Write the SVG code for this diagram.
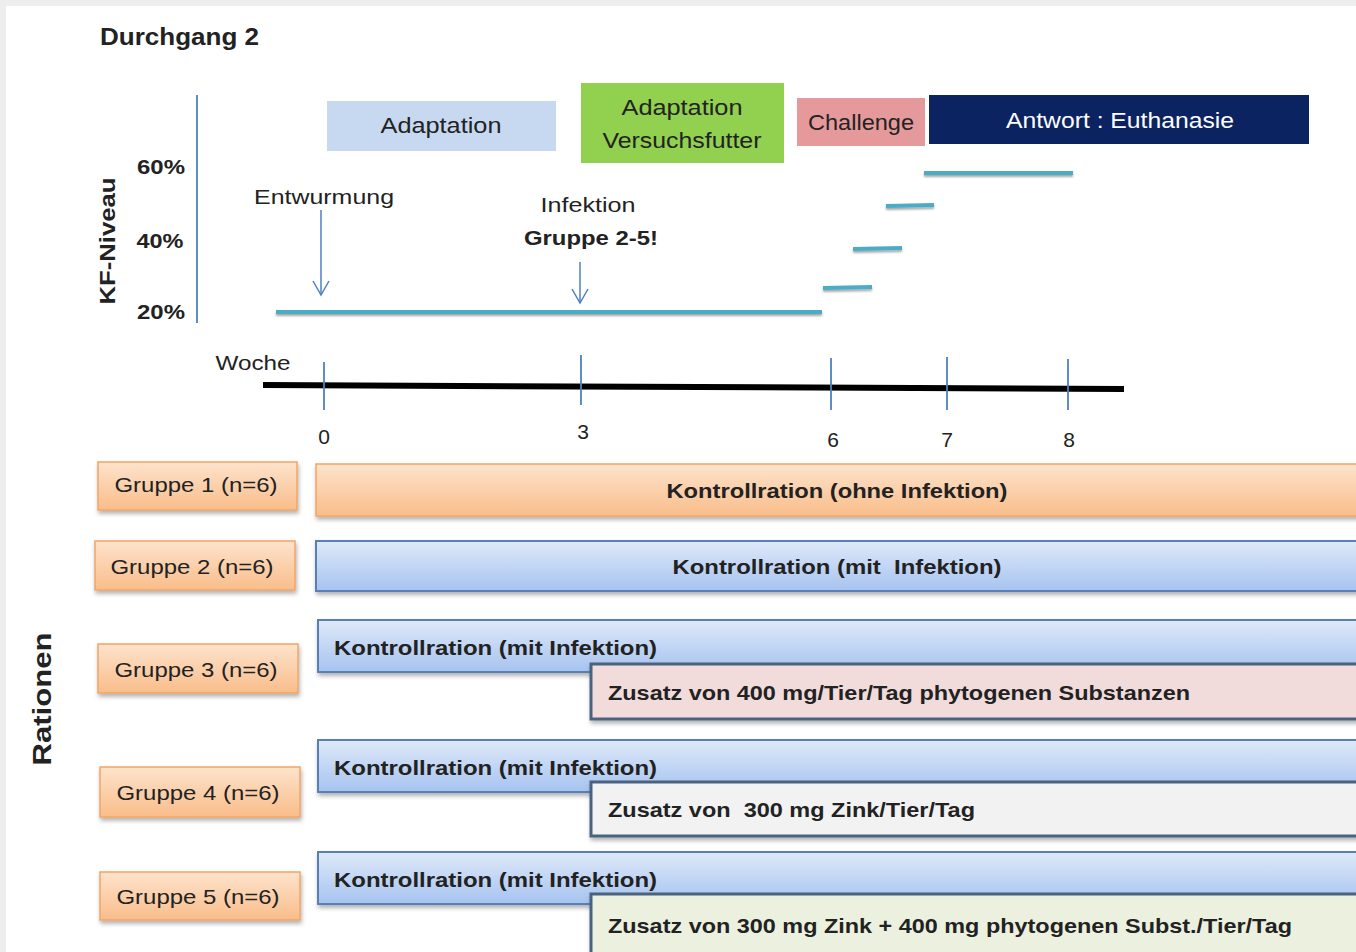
<svg xmlns="http://www.w3.org/2000/svg" width="1356" height="952" viewBox="0 0 1356 952">
<defs>
<linearGradient id="gOr" x1="0" y1="0" x2="0" y2="1"><stop offset="0" stop-color="#fde3cc"/><stop offset="1" stop-color="#f9bd8a"/></linearGradient>
<linearGradient id="gBl" x1="0" y1="0" x2="0" y2="1"><stop offset="0" stop-color="#dfe9f9"/><stop offset="1" stop-color="#a6c3f0"/></linearGradient>
<filter id="sh" x="-5%" y="-20%" width="110%" height="150%"><feDropShadow dx="1" dy="3" stdDeviation="2" flood-color="#000" flood-opacity="0.3"/></filter>
<filter id="lsh" filterUnits="userSpaceOnUse" x="0" y="0" width="1356" height="952"><feDropShadow dx="0" dy="2" stdDeviation="1.2" flood-color="#000" flood-opacity="0.35"/></filter>
<marker id="ah" viewBox="0 0 20 20" refX="18" refY="10" markerWidth="20" markerHeight="20" markerUnits="userSpaceOnUse" orient="auto"><path d="M4,2 L18,10 L4,18" fill="none" stroke="#4f81bd" stroke-width="1.5"/></marker>
</defs>
<style>
text{font-family:"Liberation Sans",Arial,sans-serif;fill:#222;white-space:pre}
.b{font-weight:bold}
.grp{fill:url(#gOr);stroke:#f3a465;stroke-width:1.5;filter:url(#sh)}
.blue{fill:url(#gBl);stroke:#5a7fb5;stroke-width:2;filter:url(#sh)}
.sup{stroke:#4a6280;stroke-width:3;filter:url(#sh)}
.teal{stroke:#4bacc6;stroke-width:4;fill:none}
.tick{stroke:#4f81bd;stroke-width:1.8}
</style>
<rect x="0" y="0" width="1356" height="952" fill="#eeeeee"/>
<rect x="6" y="6" width="1350" height="946" fill="#ffffff"/>

<text x="100" y="45" class="b" font-size="24" textLength="159" lengthAdjust="spacingAndGlyphs">Durchgang 2</text>

<g id="axis">
<line x1="197" y1="95" x2="197" y2="323" stroke="#4f81bd" stroke-width="1.8"/>
<text x="161" y="174" class="b" font-size="20" text-anchor="middle" textLength="48" lengthAdjust="spacingAndGlyphs">60%</text>
<text x="160" y="248" class="b" font-size="20" text-anchor="middle" textLength="47" lengthAdjust="spacingAndGlyphs">40%</text>
<text x="161" y="319" class="b" font-size="20" text-anchor="middle" textLength="48" lengthAdjust="spacingAndGlyphs">20%</text>
<text transform="translate(115,241) rotate(-90)" class="b" font-size="22" text-anchor="middle" textLength="127" lengthAdjust="spacingAndGlyphs">KF-Niveau</text>
</g>

<g id="phase-adaptation">
<rect x="327" y="101" width="229" height="50" fill="#c6d9f1"/>
<text x="441" y="133" font-size="22" text-anchor="middle" fill="#333" textLength="121" lengthAdjust="spacingAndGlyphs">Adaptation</text>
</g>
<g id="phase-versuchsfutter">
<rect x="581" y="83" width="203" height="80" fill="#92d050"/>
<text x="682" y="115" font-size="22" text-anchor="middle" fill="#333" textLength="121" lengthAdjust="spacingAndGlyphs">Adaptation</text>
<text x="682" y="148" font-size="22" text-anchor="middle" fill="#333" textLength="159" lengthAdjust="spacingAndGlyphs">Versuchsfutter</text>
</g>
<g id="phase-challenge">
<rect x="797" y="98" width="128" height="48" fill="#e6999b"/>
<text x="861" y="130" font-size="22" text-anchor="middle" fill="#333" textLength="106" lengthAdjust="spacingAndGlyphs">Challenge</text>
</g>
<g id="phase-antwort">
<rect x="929" y="95" width="380" height="49" fill="#0b2461"/>
<text x="1120" y="128" font-size="22" text-anchor="middle" style="fill:#ffffff" textLength="228" lengthAdjust="spacingAndGlyphs">Antwort : Euthanasie</text>
</g>

<g id="kf-levels" filter="url(#lsh)">
<line class="teal" x1="276" y1="312" x2="822" y2="312"/>
<line class="teal" x1="823" y1="288" x2="872" y2="287"/>
<line class="teal" x1="853" y1="249" x2="902" y2="248"/>
<line class="teal" x1="886" y1="206" x2="934" y2="205"/>
<line class="teal" x1="924" y1="173" x2="1073" y2="173"/>
</g>

<g id="events">
<text x="324" y="204" font-size="21" text-anchor="middle" textLength="140" lengthAdjust="spacingAndGlyphs">Entwurmung</text>
<text x="588" y="212" font-size="21" text-anchor="middle" textLength="95" lengthAdjust="spacingAndGlyphs">Infektion</text>
<text x="591" y="245" class="b" font-size="21" text-anchor="middle" textLength="134" lengthAdjust="spacingAndGlyphs">Gruppe 2-5!</text>
</g>

<g id="connectors">
<line x1="321" y1="210" x2="321" y2="295" stroke="#4f81bd" stroke-width="1.5" marker-end="url(#ah)"/>
<line x1="580" y1="262" x2="580" y2="303" stroke="#4f81bd" stroke-width="1.5" marker-end="url(#ah)"/>
</g>

<g id="timeline">
<line x1="263" y1="385" x2="1124" y2="389" stroke="#000" stroke-width="6"/>
<line class="tick" x1="324" y1="362" x2="324" y2="410"/>
<line class="tick" x1="581" y1="355" x2="581" y2="405"/>
<line class="tick" x1="831" y1="358" x2="831" y2="410"/>
<line class="tick" x1="947" y1="357" x2="947" y2="410"/>
<line class="tick" x1="1068" y1="359" x2="1068" y2="410"/>
<text x="253" y="370" font-size="21" text-anchor="middle" textLength="75" lengthAdjust="spacingAndGlyphs">Woche</text>
<text x="324" y="444" font-size="21" text-anchor="middle">0</text>
<text x="583" y="439" font-size="21" text-anchor="middle">3</text>
<text x="833" y="447" font-size="21" text-anchor="middle">6</text>
<text x="947" y="447" font-size="21" text-anchor="middle">7</text>
<text x="1069" y="447" font-size="21" text-anchor="middle">8</text>
</g>

<text transform="translate(51,699) rotate(-90)" class="b" font-size="26" text-anchor="middle" textLength="133" lengthAdjust="spacingAndGlyphs">Rationen</text>

<g id="gruppe1">
<rect class="grp" x="98" y="462" width="199" height="48"/>
<text x="196" y="492" font-size="21" text-anchor="middle" textLength="163" lengthAdjust="spacingAndGlyphs">Gruppe 1 (n=6)</text>
</g>
<g id="gruppe2">
<rect class="grp" x="95" y="541" width="200" height="49"/>
<text x="192" y="574" font-size="21" text-anchor="middle" textLength="163" lengthAdjust="spacingAndGlyphs">Gruppe 2 (n=6)</text>
</g>
<g id="gruppe3">
<rect class="grp" x="98" y="644" width="200" height="49"/>
<text x="196" y="677" font-size="21" text-anchor="middle" textLength="163" lengthAdjust="spacingAndGlyphs">Gruppe 3 (n=6)</text>
</g>
<g id="gruppe4">
<rect class="grp" x="100" y="767" width="200" height="50"/>
<text x="198" y="800" font-size="21" text-anchor="middle" textLength="163" lengthAdjust="spacingAndGlyphs">Gruppe 4 (n=6)</text>
</g>
<g id="gruppe5">
<rect class="grp" x="100" y="872" width="200" height="48"/>
<text x="198" y="904" font-size="21" text-anchor="middle" textLength="163" lengthAdjust="spacingAndGlyphs">Gruppe 5 (n=6)</text>
</g>

<g id="ration1">
<rect x="316" y="464" width="1050" height="52" fill="url(#gOr)" stroke="#f3a465" stroke-width="1.5" filter="url(#sh)"/>
<text x="837" y="498" class="b" font-size="21" text-anchor="middle" textLength="341" lengthAdjust="spacingAndGlyphs">Kontrollration (ohne Infektion)</text>
</g>
<g id="ration2">
<rect class="blue" x="316" y="541" width="1050" height="50"/>
<text x="837" y="574" class="b" font-size="21" text-anchor="middle" textLength="329" lengthAdjust="spacingAndGlyphs">Kontrollration (mit  Infektion)</text>
</g>
<g id="ration3">
<rect class="blue" x="318" y="620" width="1048" height="52"/>
<text x="334" y="655" class="b" font-size="21" textLength="323" lengthAdjust="spacingAndGlyphs">Kontrollration (mit Infektion)</text>
</g>
<g id="zusatz3">
<rect class="sup" x="591" y="664" width="775" height="55" fill="#f2dcdb"/>
<text x="608" y="700" class="b" font-size="21" textLength="582" lengthAdjust="spacingAndGlyphs">Zusatz von 400 mg/Tier/Tag phytogenen Substanzen</text>
</g>
<g id="ration4">
<rect class="blue" x="318" y="740" width="1048" height="52"/>
<text x="334" y="775" class="b" font-size="21" textLength="323" lengthAdjust="spacingAndGlyphs">Kontrollration (mit Infektion)</text>
</g>
<g id="zusatz4">
<rect class="sup" x="591" y="782" width="775" height="54" fill="#f2f2f2"/>
<text x="608" y="817" class="b" font-size="21" textLength="367" lengthAdjust="spacingAndGlyphs">Zusatz von  300 mg Zink/Tier/Tag</text>
</g>
<g id="ration5">
<rect class="blue" x="318" y="852" width="1048" height="52"/>
<text x="334" y="887" class="b" font-size="21" textLength="323" lengthAdjust="spacingAndGlyphs">Kontrollration (mit Infektion)</text>
</g>
<g id="zusatz5">
<rect class="sup" x="591" y="894" width="775" height="70" fill="#ebf1de"/>
<text x="608" y="933" class="b" font-size="21" textLength="684" lengthAdjust="spacingAndGlyphs">Zusatz von 300 mg Zink + 400 mg phytogenen Subst./Tier/Tag</text>
</g>
</svg>
